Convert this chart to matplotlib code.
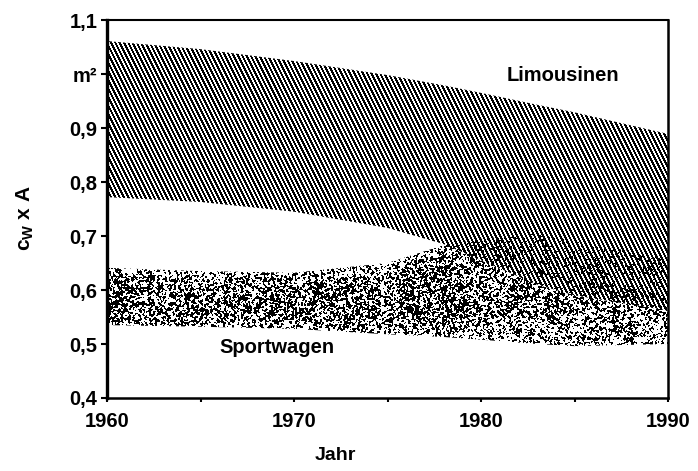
import numpy as np
import matplotlib
matplotlib.use("Agg")
import matplotlib.pyplot as plt

plt.rcParams["font.family"] = ["Liberation Sans", "DejaVu Sans"]
plt.rcParams["font.weight"] = "bold"
plt.rcParams["mathtext.fontset"] = "custom"
plt.rcParams["mathtext.rm"] = "Liberation Sans:bold"
plt.rcParams["mathtext.it"] = "Liberation Sans:bold"
plt.rcParams["mathtext.bf"] = "Liberation Sans:bold"

# Band edges (c_w x A in m^2) read per year
years = [1960, 1965, 1970, 1975, 1978, 1980, 1983, 1985, 1990]
limo_upper = [1.061, 1.046, 1.024, 0.998, 0.979, 0.965, 0.943, 0.929, 0.889]
limo_lower = [0.772, 0.763, 0.745, 0.715, 0.685, 0.655, 0.610, 0.590, 0.562]
sport_upper = [0.641, 0.635, 0.632, 0.650, 0.683, 0.695, 0.705, 0.690, 0.660]
sport_lower = [0.535, 0.532, 0.528, 0.518, 0.513, 0.508, 0.500, 0.496, 0.500]

ytick_vals = [0.4, 0.5, 0.6, 0.7, 0.8, 0.9, 1.0, 1.1]
ytick_labels = ["0,4", "0,5", "0,6", "0,7", "0,8", "0,9", "m²", "1,1"]
xtick_vals = [1960, 1970, 1980, 1990]
xminor_vals = [1965, 1975, 1985]

W, H = 698, 471
fig = plt.figure(figsize=(W / 100, H / 100), dpi=100)
ax = fig.add_axes([107 / W, 1 - 398 / H, (668 - 107) / W, (398 - 20) / H])
x0, x1, y0, y1 = 1960, 1990, 0.4, 1.1
ax.set_xlim(x0, x1)
ax.set_ylim(y0, y1)

# one texture cell per screen pixel inside the axes
px_w = 668 - 107
px_h = 398 - 20
px_per_x = px_w / (x1 - x0)
px_per_y = px_h / (y1 - y0)
col_x = x0 + (np.arange(px_w) + 0.5) / px_per_x
row_y = y1 - (np.arange(px_h) + 0.5) / px_per_y
rows, cols = np.mgrid[0:px_h, 0:px_w]


def texture_image(mask, poly, z):
    rgba = np.zeros((px_h, px_w, 4))
    rgba[..., 3] = mask.astype(float)
    im = ax.imshow(rgba, extent=(x0, x1, y0, y1), aspect="auto",
                   interpolation="nearest", zorder=z)
    im.set_clip_path(poly.get_paths()[0], ax.transData)
    return im


# --- Sportwagen: stippled band
sport_poly = ax.fill_between(years, sport_lower, sport_upper,
                             facecolor="none", edgecolor="none")
rng = np.random.default_rng(7)
noise = rng.random((px_h, px_w))
blur = (noise + np.roll(noise, 1, 0) + np.roll(noise, 1, 1)
        + np.roll(np.roll(noise, 1, 0), 1, 1))
ranks = blur.ravel().argsort().argsort().reshape(blur.shape) / blur.size

lo = np.interp(col_x, years, sport_lower)
hi = np.interp(col_x, years, sport_upper)
hatch_lo = np.interp(col_x, years, limo_lower)
t = (row_y[:, None] - lo[None, :]) / (hi - lo)[None, :]
base = 0.55 - 0.07 * np.clip((col_x - 1978) / 6, 0, 1)
dens = base[None, :] * (1 - 0.4 * np.clip(np.abs(2 * t - 1), 0, 1) ** 3)
dens = np.where(row_y[:, None] > hatch_lo[None, :], dens * 0.4, dens)
texture_image(ranks < dens, sport_poly, 2)

# --- Limousinen: steep diagonal hatching (2 px down per px right)
limo_poly = ax.fill_between(years, limo_lower, limo_upper,
                            facecolor="none", edgecolor="none")
period = 4.3
phase = np.mod(cols - rows / 2.0, period)
texture_image(phase < 2.3, limo_poly, 3)

# --- axes styling
for side, lw in (("left", 2.4), ("bottom", 1.8), ("top", 1.5), ("right", 1.8)):
    ax.spines[side].set_linewidth(lw)
    ax.spines[side].set_zorder(5)

ax.set_yticks(ytick_vals)
ax.set_yticklabels(ytick_labels)
ax.set_xticks(xtick_vals)
ax.set_xticks(xminor_vals, minor=True)
ax.tick_params(axis="y", direction="out", length=4, width=1.5, pad=3,
               labelsize=14.5)
ax.tick_params(axis="x", which="both", direction="out", length=3, width=1.5,
               pad=7, labelsize=14.5)
for lbl in ax.get_xticklabels() + ax.get_yticklabels():
    lbl.set_fontweight("bold")

ax.text(1984.4, 0.998, "Limousinen", fontsize=14.5, fontweight="bold",
        ha="center", va="center", zorder=6)
ax.text(1969.1, 0.494, "Sportwagen", fontsize=14.5, fontweight="bold",
        ha="center", va="center", zorder=6)

fig.text(335 / W, 1 - 456 / H, "Jahr", fontsize=14, fontweight="bold",
         ha="center", va="center")
fig.text(25 / W, 1 - 218 / H, r"c$_{\rm W}$ x A", fontsize=15,
         fontweight="bold", rotation=90, ha="center", va="center")

fig.savefig("out.png", dpi=100)
